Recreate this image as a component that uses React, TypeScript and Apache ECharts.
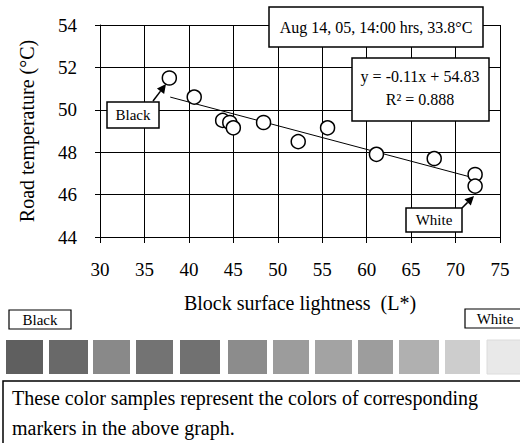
import React, { useEffect, useRef } from "react";
import * as echarts from "echarts";

const lightness = [37.8, 40.6, 43.8, 44.6, 45.0, 48.4, 52.3, 55.6, 61.1, 67.6, 72.2, 72.2];
const roadTemp = [51.5, 50.6, 49.5, 49.4, 49.15, 49.4, 48.5, 49.15, 47.9, 47.7, 46.95, 46.4];
const trendLine = [
  [37.9, 50.6],
  [71.5, 46.85],
];
const swatchColors = [
  "#5f5f5f", "#696969", "#898989", "#737373", "#717171", "#8c8c8c",
  "#9c9c9c", "#a3a3a3", "#9d9d9d", "#b0b0b0", "#cdcdcd", "#e9e9e9",
];
const conditionText = "Aug 14, 05, 14:00 hrs, 33.8°C";
const equationText = "y = -0.11x + 54.83";
const r2Text = "R² = 0.888";
const noteLines = [
  "These color samples represent the colors of corresponding",
  "markers in the above graph.",
];

const FONT = "'Liberation Serif', 'DejaVu Serif', serif";

// swatch layout (pixels)
const swatchBoxes = [
  [6, 43], [49, 88], [93, 130], [136, 173], [180, 220], [228, 267],
  [273, 309], [315, 352], [358, 393], [399, 439], [445, 480], [487, 524],
];

function arrow(tail: number[], tip: number[]) {
  const dx = tip[0] - tail[0];
  const dy = tip[1] - tail[1];
  const len = Math.hypot(dx, dy);
  const ux = dx / len, uy = dy / len;
  const hl = 9, hw = 4.5;
  const bx = tip[0] - ux * hl, by = tip[1] - uy * hl;
  return [
    { type: "line", shape: { x1: tail[0], y1: tail[1], x2: bx, y2: by }, style: { stroke: "#000", lineWidth: 1.5 }, z: 20 },
    {
      type: "polygon",
      shape: { points: [tip, [bx - uy * hw, by + ux * hw], [bx + uy * hw, by - ux * hw]] },
      style: { fill: "#000" },
      z: 20,
    },
  ];
}

function labelBox(x: number, y: number, w: number, h: number, text: string, fontSize: number, lw = 1.5) {
  return [
    { type: "rect", shape: { x, y, width: w, height: h }, style: { fill: "#fff", stroke: "#000", lineWidth: lw }, z: 20 },
    {
      type: "text",
      x: x + w / 2,
      y: y + h / 2,
      style: { text, font: `${fontSize}px ${FONT}`, fill: "#000", align: "center", verticalAlign: "middle" },
      z: 21,
    },
  ];
}

export default function App() {
  const ref = useRef<HTMLDivElement>(null);
  useEffect(() => {
    const chart = echarts.init(ref.current!, null, { renderer: "svg" });
    const points = lightness.map((x, i) => [x, roadTemp[i]]);
    const graphic: any[] = [
      ...labelBox(269, 7, 214, 40, conditionText, 16),
      { type: "rect", shape: { x: 352, y: 58, width: 137, height: 63 }, style: { fill: "#fff", stroke: "#000", lineWidth: 1.5 }, z: 20 },
      { type: "text", x: 420, y: 76, style: { text: equationText, font: `16px ${FONT}`, fill: "#000", align: "center", verticalAlign: "middle" }, z: 21 },
      { type: "text", x: 420, y: 99, style: { text: r2Text, font: `16px ${FONT}`, fill: "#000", align: "center", verticalAlign: "middle" }, z: 21 },
      ...labelBox(107, 102, 52, 26, "Black", 15),
      ...arrow([153, 101], [166, 84]),
      ...labelBox(406, 208, 56, 24, "White", 15),
      ...arrow([462, 208], [474, 196]),
      ...labelBox(9, 310, 62, 19, "Black", 15, 1.2),
      ...labelBox(465, 309, 60, 19, "White", 15, 1.2),
      ...swatchColors.map((c, i) => ({
        type: "rect",
        shape: { x: swatchBoxes[i][0], y: 340, width: swatchBoxes[i][1] - swatchBoxes[i][0], height: 34 },
        style: { fill: c, stroke: i === swatchColors.length - 1 ? "#dcdcdc" : null, lineWidth: 1 },
      })),
      { type: "rect", shape: { x: 3, y: 381, width: 540, height: 80 }, style: { fill: "#fff", stroke: "#000", lineWidth: 1.5 } },
      ...noteLines.map((t, i) => ({
        type: "text",
        x: 12,
        y: 398 + i * 30,
        style: { text: t, font: `20px ${FONT}`, fill: "#000", align: "left", verticalAlign: "middle" },
        z: 5,
      })),
    ];
    chart.setOption({
      animation: false,
      backgroundColor: "#fff",
      grid: { left: 100, top: 25, width: 400, height: 212, containLabel: false },
      xAxis: {
        type: "value",
        min: 30,
        max: 75,
        interval: 5,
        name: "Block surface lightness  (L*)",
        nameLocation: "middle",
        nameGap: 56,
        nameTextStyle: { fontFamily: FONT, fontSize: 20, color: "#000" },
        axisLine: { show: true, lineStyle: { color: "#000", width: 1 } },
        axisTick: { show: true, inside: false, length: 6, lineStyle: { color: "#000" } },
        axisLabel: { fontFamily: FONT, fontSize: 19, color: "#000", margin: 23 },
        splitLine: { show: true, lineStyle: { color: "#000", width: 1 } },
      },
      yAxis: {
        type: "value",
        min: 44,
        max: 54,
        interval: 2,
        name: "Road temperature (°C)",
        nameLocation: "middle",
        nameRotate: 90,
        nameGap: 63,
        nameTextStyle: { fontFamily: FONT, fontSize: 20, color: "#000" },
        axisLine: { show: true, lineStyle: { color: "#000", width: 1 } },
        axisTick: { show: true, inside: false, length: 5, lineStyle: { color: "#000" } },
        axisLabel: { fontFamily: FONT, fontSize: 19, color: "#000", margin: 23 },
        splitLine: { show: true, lineStyle: { color: "#000", width: 1 } },
      },
      series: [
        {
          type: "line",
          data: trendLine,
          showSymbol: false,
          symbol: "none",
          lineStyle: { color: "#000", width: 1 },
          z: 2,
        },
        {
          type: "scatter",
          data: points,
          symbol: "circle",
          symbolSize: 14,
          itemStyle: { color: "#fff", borderColor: "#000", borderWidth: 1.5, opacity: 1 },
          z: 3,
        },
      ],
      graphic,
    });
    return () => chart.dispose();
  }, []);
  return <div ref={ref} style={{ position: "absolute", left: 0, top: 0, width: 520, height: 443 }} />;
}
